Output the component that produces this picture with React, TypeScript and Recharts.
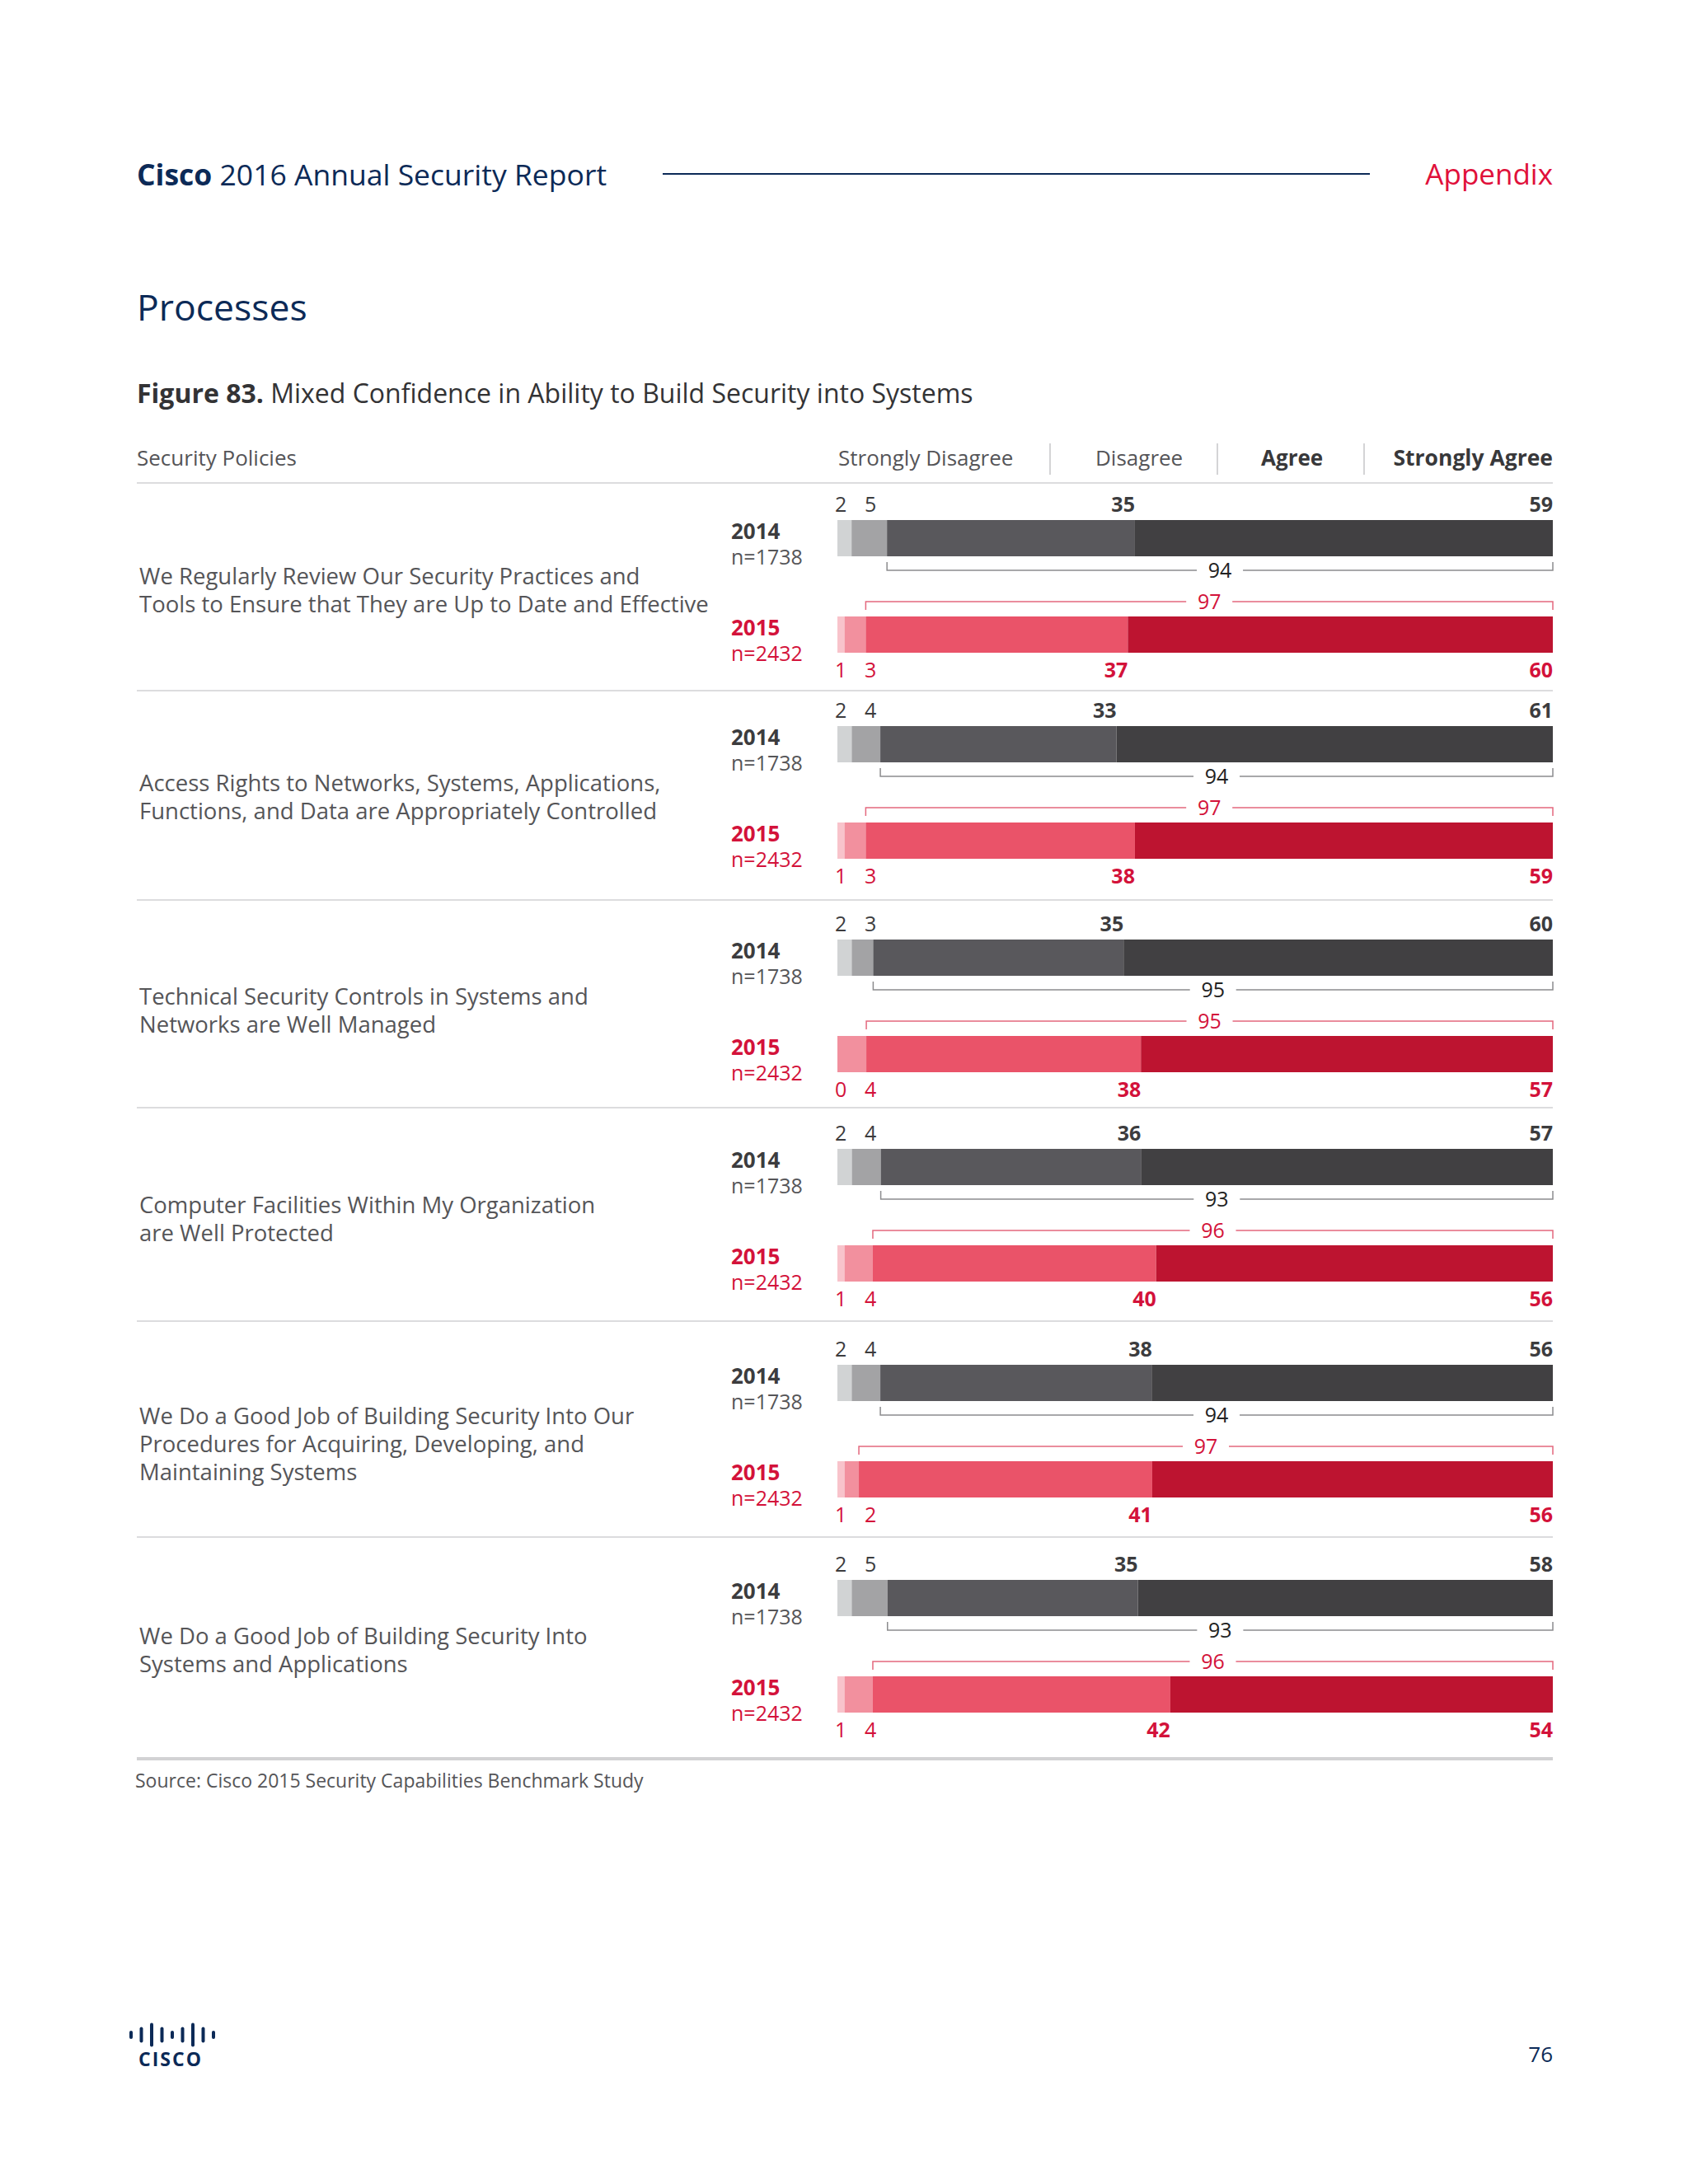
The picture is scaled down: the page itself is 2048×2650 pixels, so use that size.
import { Bar, BarChart, XAxis, YAxis } from 'recharts'

// Figure 83 — six survey statements, 2014 vs 2015, stacked 100% bars
const CATEGORIES = [
  ['We Regularly Review Our Security Practices and', 'Tools to Ensure that They are Up to Date and Effective'],
  ['Access Rights to Networks, Systems, Applications,', 'Functions, and Data are Appropriately Controlled'],
  ['Technical Security Controls in Systems and', 'Networks are Well Managed'],
  ['Computer Facilities Within My Organization', 'are Well Protected'],
  ['We Do a Good Job of Building Security Into Our', 'Procedures for Acquiring, Developing, and', 'Maintaining Systems'],
  ['We Do a Good Job of Building Security Into', 'Systems and Applications'],
]
const YEARS = ['2014', '2015']
const SAMPLES = ['n=1738', 'n=2432']
const LEGEND = ['Strongly Disagree', 'Disagree', 'Agree', 'Strongly Agree']

const SD_2014 = [2, 2, 2, 2, 2, 2]
const D_2014 = [5, 4, 3, 4, 4, 5]
const A_2014 = [35, 33, 35, 36, 38, 35]
const SA_2014 = [59, 61, 60, 57, 56, 58]
const TOTAL_2014 = [94, 94, 95, 93, 94, 93]

const SD_2015 = [1, 1, 0, 1, 1, 1]
const D_2015 = [3, 3, 4, 4, 2, 4]
const A_2015 = [37, 38, 38, 40, 41, 42]
const SA_2015 = [60, 59, 57, 56, 56, 54]
const TOTAL_2015 = [97, 97, 95, 96, 97, 96]

// layout
const FONT = '"Open Sans", Lato, sans-serif'
const NAVY = '#0c2a57'
const RED = '#d3123a'
const GREY_TEXT = '#555558'
const BAR1_CENTER = [652, 902, 1161, 1415, 1677, 1938]
const LABEL_TOP = [699, 950, 1209, 1462, 1718, 1985]
const SEPARATORS = [586, 838, 1092, 1344, 1603, 1865]

const PALETTE = [
  { seg: ['#d1d3d4', '#a3a3a5', '#59585c', '#414042'], text: '#3c3c3e', line: '#8c8c8e', total: '#222222' },
  { seg: ['#f8c3cb', '#f2909e', '#ea5369', '#bd1430'], text: RED, line: '#e3687e', total: RED },
]

function rowsFor(g: number) {
  return [
    { year: YEARS[0], kind: 0, sd: SD_2014[g], d: D_2014[g], a: A_2014[g], sa: SA_2014[g], total: TOTAL_2014[g] },
    { year: YEARS[1], kind: 1, sd: SD_2015[g], d: D_2015[g], a: A_2015[g], sa: SA_2015[g], total: TOTAL_2015[g] },
  ]
}

const KEYS = ['sd', 'd', 'a', 'sa'] as const

function segShape(seg: number) {
  return (props: any) => {
    const { x, y, width, height, payload } = props
    const p = PALETTE[payload.kind]
    const above = payload.kind === 0
    const ly = above ? y - 10 : y + height + 30
    let lx = x + width
    let anchor: 'start' | 'middle' | 'end' = 'end'
    if (seg === 0) { lx = x - 3; anchor = 'start' }
    if (seg === 1) {
      // small-value labels sit at a fixed gap from the bar start
      const barStart = x - (width * payload.sd) / payload.d
      lx = barStart + 33
      anchor = 'start'
    }
    const bold = seg >= 2
    let bracket = null
    if (seg === 2) {
      const end = x + (width * (payload.a + payload.sa)) / payload.a
      const mid = (x + end) / 2
      const by = above ? y + height + 17 : y - 18
      const tick = above ? -10 : 10
      bracket = (
        <g>
          <path d={`M${x},${by + tick} L${x},${by} L${end},${by} L${end},${by + tick}`} fill="none" stroke={p.line} strokeWidth={1.5} />
          <rect x={mid - 28} y={by - 14} width={56} height={28} fill="#ffffff" />
          <text x={mid} y={by + 9} textAnchor="middle" fontSize={25} fontFamily={FONT} fill={p.total}>{payload.total}</text>
        </g>
      )
    }
    return (
      <g>
        <rect x={x} y={y} width={width} height={height} fill={p.seg[seg]} />
        <text x={lx} y={ly} textAnchor={anchor} fontSize={25} fontWeight={bold ? 700 : 400} fontFamily={FONT} fill={p.text}>
          {payload[KEYS[seg]]}
        </text>
        {bracket}
      </g>
    )
  }
}

function YearTick(props: any) {
  const { x, y, payload, index } = props
  const color = index === 0 ? '#3c3c3e' : RED
  return (
    <g>
      <text x={x - 121} y={y + 1} fontSize={26} fontWeight={700} fontFamily={FONT} fill={color}>{payload.value}</text>
      <text x={x - 121} y={y + 32} fontSize={25} fontFamily={FONT} fill={index === 0 ? GREY_TEXT : RED}>{SAMPLES[index]}</text>
    </g>
  )
}

function GroupChart({ g }: { g: number }) {
  return (
    <div style={{ position: 'absolute', left: 880, top: BAR1_CENTER[g] - 72.5 }}>
      <BarChart width={1020} height={260} data={rowsFor(g)} layout="vertical" stackOffset="expand"
        margin={{ top: 14, right: 16, bottom: 12, left: 0 }} barSize={44}>
        <XAxis type="number" hide domain={[0, 1]} />
        <YAxis type="category" dataKey="year" width={136} axisLine={false} tickLine={false} tick={(p: any) => <YearTick {...p} />} />
        {KEYS.map((k, i) => (
          <Bar key={k} dataKey={k} stackId="s" isAnimationActive={false} shape={segShape(i)} />
        ))}
      </BarChart>
    </div>
  )
}

function abs(left: number, top: number, extra: any = {}) {
  return { position: 'absolute' as const, left, top, whiteSpace: 'nowrap' as const, ...extra }
}

function CiscoLogo() {
  const heights = [10, 19, 29, 19, 10, 19, 29, 19, 10]
  return (
    <svg style={abs(155, 2448)} width={110} height={66}>
      {heights.map((h, i) => (
        <rect key={i} x={2 + i * 12.5} y={21 - h / 2} width={4} height={h} rx={2} fill={NAVY} />
      ))}
      <text x={52} y={59} textAnchor="middle" fontSize={23} fontWeight={700} letterSpacing={2} fontFamily={FONT} fill={NAVY}>CISCO</text>
    </svg>
  )
}

export default function App() {
  return (
    <div style={{ position: 'absolute', left: 0, top: 0, width: 2048, height: 2650, background: '#ffffff', fontFamily: FONT, overflow: 'hidden' }}>
      {/* page header */}
      <div style={abs(166, 190, { fontSize: 35.5, lineHeight: '42px', color: NAVY })}>
        <b>Cisco</b> 2016 Annual Security Report
      </div>
      <div style={abs(804, 210, { width: 858, height: 2, background: NAVY })} />
      <div style={abs(0, 190, { width: 1884, textAlign: 'right', fontSize: 35, lineHeight: '42px', color: '#e0103a' })}>Appendix</div>

      <div style={abs(166, 344, { fontSize: 44.5, lineHeight: '56px', color: NAVY })}>Processes</div>
      <div style={abs(166, 457, { fontSize: 32, lineHeight: '40px', color: '#333335' })}>
        <b>Figure 83.</b> Mixed Confidence in Ability to Build Security into Systems
      </div>

      {/* column header */}
      <div style={abs(166, 538, { fontSize: 26, lineHeight: '34px', color: GREY_TEXT })}>Security Policies</div>
      <div style={abs(1017, 538, { fontSize: 26, lineHeight: '34px', color: GREY_TEXT })}>{LEGEND[0]}</div>
      <div style={abs(1329, 538, { fontSize: 26, lineHeight: '34px', color: GREY_TEXT })}>{LEGEND[1]}</div>
      <div style={abs(1530, 538, { fontSize: 26, lineHeight: '34px', color: '#38383a', fontWeight: 700 })}>{LEGEND[2]}</div>
      <div style={abs(0, 538, { width: 1884, textAlign: 'right', fontSize: 26.5, lineHeight: '34px', color: '#38383a', fontWeight: 700 })}>{LEGEND[3]}</div>
      {[1273, 1476, 1654].map((x) => (
        <div key={x} style={abs(x, 538, { width: 2, height: 38, background: '#d4d4d6' })} />
      ))}

      {SEPARATORS.map((y) => (
        <div key={y} style={abs(166, y - 1, { width: 1718, height: 2, background: '#dcdcde' })} />
      ))}
      <div style={abs(166, 2132, { width: 1718, height: 4, background: '#d2d2d4' })} />

      {CATEGORIES.map((lines, g) => (
        <div key={g} style={abs(169, LABEL_TOP[g] - 17, { fontSize: 27.5, lineHeight: '34px', color: GREY_TEXT })}>
          {lines.map((l, i) => <div key={i}>{l}</div>)}
        </div>
      ))}

      {CATEGORIES.map((_, g) => <GroupChart key={g} g={g} />)}

      <div style={abs(164, 2144, { fontSize: 23, lineHeight: '32px', color: GREY_TEXT })}>Source: Cisco 2015 Security Capabilities Benchmark Study</div>

      <CiscoLogo />
      <div style={abs(0, 2476, { width: 1884, textAlign: 'right', fontSize: 26, lineHeight: '32px', color: NAVY })}>76</div>
    </div>
  )
}
